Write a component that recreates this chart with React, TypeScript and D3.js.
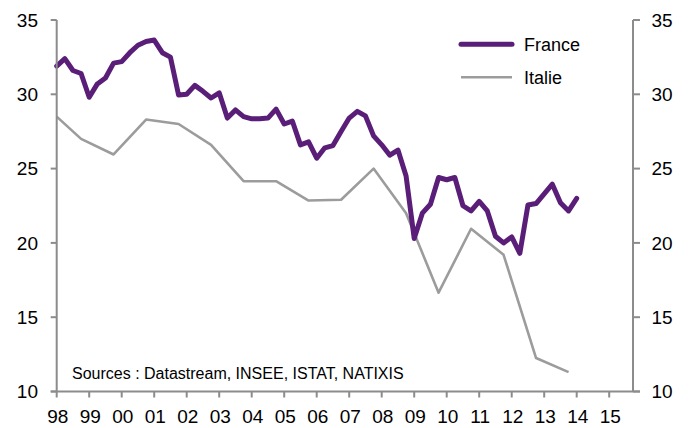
import React from "react";
import * as d3 from "d3";

// France: quarterly, 1998 T1 .. 2014 T1
const franceDates: number[] = [
  1998.0, 1998.25, 1998.5, 1998.75,
  1999.0, 1999.25, 1999.5, 1999.75,
  2000.0, 2000.25, 2000.5, 2000.75,
  2001.0, 2001.25, 2001.5, 2001.75,
  2002.0, 2002.25, 2002.5, 2002.75,
  2003.0, 2003.25, 2003.5, 2003.75,
  2004.0, 2004.25, 2004.5, 2004.75,
  2005.0, 2005.25, 2005.5, 2005.75,
  2006.0, 2006.25, 2006.5, 2006.75,
  2007.0, 2007.25, 2007.5, 2007.75,
  2008.0, 2008.25, 2008.5, 2008.75,
  2009.0, 2009.25, 2009.5, 2009.75,
  2010.0, 2010.25, 2010.5, 2010.75,
  2011.0, 2011.25, 2011.5, 2011.75,
  2012.0, 2012.25, 2012.5, 2012.75,
  2013.0, 2013.25, 2013.5, 2013.75,
  2014.0,
];
const franceValues: number[] = [
  31.9, 32.4, 31.6, 31.4,
  29.8, 30.7, 31.1, 32.1,
  32.2, 32.8, 33.3, 33.55,
  33.65, 32.8, 32.5, 29.95,
  30.0, 30.6, 30.2, 29.75,
  30.1, 28.4, 28.95, 28.5,
  28.35, 28.35, 28.4, 29.0,
  28.0, 28.2, 26.6, 26.8,
  25.7, 26.4, 26.55, 27.5,
  28.4, 28.85, 28.55, 27.2,
  26.6, 25.9, 26.25, 24.5,
  20.3, 22.0, 22.6, 24.4,
  24.25, 24.4, 22.5, 22.15,
  22.8, 22.15, 20.45, 20.0,
  20.4, 19.3, 22.55, 22.65,
  23.3, 23.95, 22.7, 22.15,
  23.0,
];

// Italie: annual points
const italieDates: number[] = [
  1998.0, 1998.75, 1999.75, 2000.75, 2001.75, 2002.75, 2003.75, 2004.75,
  2005.75, 2006.75, 2007.75, 2008.75, 2009.75, 2010.75, 2011.75, 2012.75, 2013.75,
];
const italieValues: number[] = [
  28.5, 27.0, 25.95, 28.3, 28.0, 26.6, 24.15, 24.15,
  22.85, 22.9, 25.0, 22.0, 16.65, 20.95, 19.2, 12.25, 11.3,
];

const yearTicks: number[] = [
  1998, 1999, 2000, 2001, 2002, 2003, 2004, 2005, 2006,
  2007, 2008, 2009, 2010, 2011, 2012, 2013, 2014, 2015,
];
const yTicks: number[] = [10, 15, 20, 25, 30, 35];
const seriesNames: string[] = ["France", "Italie"];
const sourceNote = "Sources : Datastream, INSEE, ISTAT, NATIXIS";

const W = 692;
const H = 428;
const LEFT = 56.7;
const RIGHT = 633;
const TOP = 20;
const BOTTOM = 391.5;

const FR_COLOR = "#5a1e78";
const IT_COLOR = "#9c9c9c";
const AXIS_COLOR = "#8c8c8c";
const FONT = "'Liberation Sans', Arial, sans-serif";

export default function App() {
  const x = d3.scaleLinear().domain([1998, 2015]).range([LEFT, 609.2]);
  const y = d3.scaleLinear().domain([10, 35]).range([BOTTOM, TOP]);

  const line = d3
    .line<[number, number]>()
    .x((d) => x(d[0]))
    .y((d) => y(d[1]));

  const frData = franceDates.map((d, i) => [d, franceValues[i]] as [number, number]);
  const itData = italieDates.map((d, i) => [d, italieValues[i]] as [number, number]);

  return (
    <svg
      width={W}
      height={H}
      style={{ position: "absolute", left: 0, top: 0, background: "#fff" }}
      fontFamily={FONT}
    >
      <rect x={0} y={0} width={W} height={H} fill="#fff" />
      {/* series */}
      <path d={line(itData) || ""} fill="none" stroke={IT_COLOR} strokeWidth={2.6} strokeLinejoin="round" />
      <path d={line(frData) || ""} fill="none" stroke={FR_COLOR} strokeWidth={5} strokeLinejoin="round" strokeLinecap="round" />

      {/* axes */}
      <line x1={LEFT} x2={LEFT} y1={TOP} y2={BOTTOM} stroke={AXIS_COLOR} strokeWidth={2} />
      <line x1={RIGHT} x2={RIGHT} y1={TOP} y2={BOTTOM} stroke={AXIS_COLOR} strokeWidth={2} />
      <line x1={LEFT - 6} x2={RIGHT + 7} y1={BOTTOM} y2={BOTTOM} stroke={AXIS_COLOR} strokeWidth={2} />
      {yTicks.map((t) => (
        <g key={"y" + t}>
          <line x1={LEFT - 6} x2={LEFT} y1={y(t)} y2={y(t)} stroke={AXIS_COLOR} strokeWidth={2} />
          <line x1={RIGHT} x2={RIGHT + 7} y1={y(t)} y2={y(t)} stroke={AXIS_COLOR} strokeWidth={2} />
          <text x={38} y={y(t)} dy="0.35em" textAnchor="end" fontSize={19} fill="#000">
            {t}
          </text>
          <text x={651.5} y={y(t)} dy="0.35em" textAnchor="start" fontSize={19} fill="#000">
            {t}
          </text>
        </g>
      ))}
      {yearTicks.map((t) => (
        <g key={"x" + t}>
          <line x1={x(t)} x2={x(t)} y1={BOTTOM} y2={BOTTOM + 6} stroke={AXIS_COLOR} strokeWidth={2} />
          <text x={x(t) + 1} y={423} textAnchor="middle" fontSize={19} fill="#000">
            {String(t % 100).padStart(2, "0")}
          </text>
        </g>
      ))}

      {/* legend */}
      <line x1={461} x2={512} y1={44.3} y2={44.3} stroke={FR_COLOR} strokeWidth={5} strokeLinecap="round" />
      <text x={524} y={44.3} dy="0.35em" fontSize={18} fill="#000">{seriesNames[0]}</text>
      <line x1={461} x2={512} y1={77.3} y2={77.3} stroke={IT_COLOR} strokeWidth={2.6} />
      <text x={524} y={77.3} dy="0.35em" fontSize={18} fill="#000">{seriesNames[1]}</text>

      {/* source */}
      <text x={72} y={379} fontSize={16} fill="#000">{sourceNote}</text>
    </svg>
  );
}
